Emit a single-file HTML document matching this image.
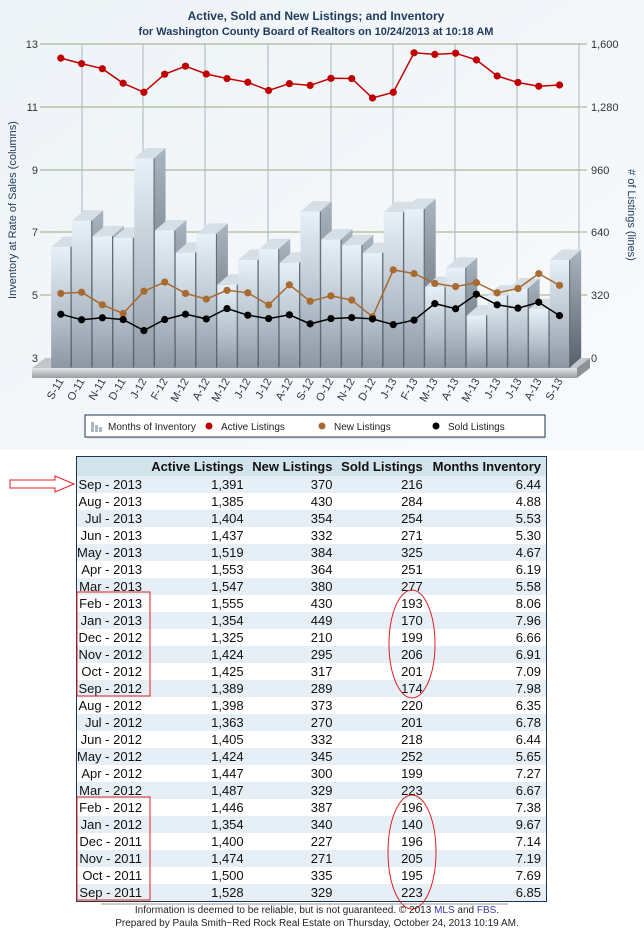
<!DOCTYPE html>
<html><head><meta charset="utf-8">
<style>
html,body{margin:0;padding:0;}
body{width:644px;height:946px;position:relative;overflow:hidden;background:#fff;font-family:"Liberation Sans",sans-serif;}
#chart{position:absolute;left:0;top:0;}
table{position:absolute;left:76px;top:456px;width:471px;border-collapse:collapse;border:1px solid #1d3550;font-size:13px;color:#111;}
th{background:#d3e3ec;font-weight:bold;height:19px;padding:0 5px 0 0;text-align:right;white-space:nowrap;}
td{height:17px;padding:0 5px 0 0;text-align:right;white-space:nowrap;line-height:17px;}
tr:nth-child(odd) td{background:#fff;}
tr:nth-child(even) td{background:#e6eff6;}
.c0{width:61px;}
#ann{position:absolute;left:0;top:0;}
.foot{position:absolute;left:0;width:610px;text-align:center;font-size:10px;color:#222;}
</style></head><body>
<svg id="chart" width="644" height="450" viewBox="0 0 644 450">
<defs>
<linearGradient id="bg" x1="0" y1="0" x2="1" y2="1"><stop offset="0" stop-color="#eef3f7"/><stop offset="1" stop-color="#f8fbfd"/></linearGradient>
<linearGradient id="fr" x1="0" y1="0" x2="0" y2="1"><stop offset="0" stop-color="#e8f1f9"/><stop offset="0.6" stop-color="#b3bfca"/><stop offset="1" stop-color="#8c97a3"/></linearGradient>
<linearGradient id="sd" x1="0" y1="0" x2="0" y2="1"><stop offset="0" stop-color="#a9b5c0"/><stop offset="1" stop-color="#56606a"/></linearGradient>
<linearGradient id="sl" x1="0" y1="0" x2="0" y2="1"><stop offset="0" stop-color="#e4e6e8"/><stop offset="1" stop-color="#9a9ea2"/></linearGradient>
</defs>
<rect width="644" height="450" fill="url(#bg)"/>
<text x="316" y="20" text-anchor="middle" font-size="12" font-weight="bold" fill="#1f3a5a">Active, Sold and New Listings; and Inventory</text>
<text x="316" y="35" text-anchor="middle" font-size="11" font-weight="bold" fill="#1f3a5a">for Washington County Board of Realtors on 10/24/2013 at 10:18 AM</text>
<g id="grid"></g>
<g font-size="11" fill="#333" text-anchor="end">
<text x="38" y="48">13</text><text x="38" y="111">11</text><text x="38" y="174">9</text><text x="38" y="236">7</text><text x="38" y="299">5</text><text x="38" y="362">3</text>
</g>
<g font-size="11" fill="#333">
<text x="591" y="48">1,600</text><text x="591" y="111">1,280</text><text x="591" y="174">960</text><text x="591" y="236">640</text><text x="591" y="299">320</text><text x="591" y="362">0</text>
</g>
<text transform="translate(16,210) rotate(-90)" text-anchor="middle" font-size="11" fill="#1f3a5a">Inventory at Rate of Sales (columns)</text>
<text transform="translate(628,215) rotate(90)" text-anchor="middle" font-size="11" fill="#1f3a5a"># of Listings (lines)</text>
<g id="bars"></g>
<g id="lines"></g>
<g id="xl" font-size="11" fill="#334" text-anchor="end">
<text transform="translate(64,381) rotate(-60)">S-11</text>
<text transform="translate(85,381) rotate(-60)">O-11</text>
<text transform="translate(106,381) rotate(-60)">N-11</text>
<text transform="translate(126,381) rotate(-60)">D-11</text>
<text transform="translate(147,381) rotate(-60)">J-12</text>
<text transform="translate(168,381) rotate(-60)">F-12</text>
<text transform="translate(189,381) rotate(-60)">M-12</text>
<text transform="translate(210,381) rotate(-60)">A-12</text>
<text transform="translate(230,381) rotate(-60)">M-12</text>
<text transform="translate(251,381) rotate(-60)">J-12</text>
<text transform="translate(272,381) rotate(-60)">J-12</text>
<text transform="translate(293,381) rotate(-60)">A-12</text>
<text transform="translate(314,381) rotate(-60)">S-12</text>
<text transform="translate(334,381) rotate(-60)">O-12</text>
<text transform="translate(355,381) rotate(-60)">N-12</text>
<text transform="translate(376,381) rotate(-60)">D-12</text>
<text transform="translate(397,381) rotate(-60)">J-13</text>
<text transform="translate(418,381) rotate(-60)">F-13</text>
<text transform="translate(438,381) rotate(-60)">M-13</text>
<text transform="translate(459,381) rotate(-60)">A-13</text>
<text transform="translate(480,381) rotate(-60)">M-13</text>
<text transform="translate(501,381) rotate(-60)">J-13</text>
<text transform="translate(522,381) rotate(-60)">J-13</text>
<text transform="translate(542,381) rotate(-60)">A-13</text>
<text transform="translate(563,381) rotate(-60)">S-13</text>
</g>
<rect x="87" y="417" width="458" height="22" fill="#dfe3e6"/>
<rect x="85" y="415" width="460" height="22" fill="#fff" stroke="#1d3550" stroke-width="1"/>
<g fill="#a9b9c8"><rect x="91" y="422" width="3" height="10"/><rect x="95" y="425" width="3" height="7"/><rect x="99" y="427" width="3" height="5"/></g>
<g font-size="10" fill="#222">
<text x="108" y="430">Months of Inventory</text>
<circle cx="209" cy="426" r="3.5" fill="#c00000"/><text x="221" y="430">Active Listings</text>
<circle cx="322" cy="426" r="3.5" fill="#a86a30"/><text x="334" y="430">New Listings</text>
<circle cx="436" cy="426" r="3.5" fill="#000"/><text x="448" y="430">Sold Listings</text>
</g>
</svg>

<table>
<tr><th class="c0"></th><th>Active Listings</th><th>New Listings</th><th>Sold Listings</th><th>Months Inventory</th></tr>
<tr><td>Sep - 2013</td><td>1,391</td><td>370</td><td>216</td><td>6.44</td></tr>
<tr><td>Aug - 2013</td><td>1,385</td><td>430</td><td>284</td><td>4.88</td></tr>
<tr><td>Jul - 2013</td><td>1,404</td><td>354</td><td>254</td><td>5.53</td></tr>
<tr><td>Jun - 2013</td><td>1,437</td><td>332</td><td>271</td><td>5.30</td></tr>
<tr><td>May - 2013</td><td>1,519</td><td>384</td><td>325</td><td>4.67</td></tr>
<tr><td>Apr - 2013</td><td>1,553</td><td>364</td><td>251</td><td>6.19</td></tr>
<tr><td>Mar - 2013</td><td>1,547</td><td>380</td><td>277</td><td>5.58</td></tr>
<tr><td>Feb - 2013</td><td>1,555</td><td>430</td><td>193</td><td>8.06</td></tr>
<tr><td>Jan - 2013</td><td>1,354</td><td>449</td><td>170</td><td>7.96</td></tr>
<tr><td>Dec - 2012</td><td>1,325</td><td>210</td><td>199</td><td>6.66</td></tr>
<tr><td>Nov - 2012</td><td>1,424</td><td>295</td><td>206</td><td>6.91</td></tr>
<tr><td>Oct - 2012</td><td>1,425</td><td>317</td><td>201</td><td>7.09</td></tr>
<tr><td>Sep - 2012</td><td>1,389</td><td>289</td><td>174</td><td>7.98</td></tr>
<tr><td>Aug - 2012</td><td>1,398</td><td>373</td><td>220</td><td>6.35</td></tr>
<tr><td>Jul - 2012</td><td>1,363</td><td>270</td><td>201</td><td>6.78</td></tr>
<tr><td>Jun - 2012</td><td>1,405</td><td>332</td><td>218</td><td>6.44</td></tr>
<tr><td>May - 2012</td><td>1,424</td><td>345</td><td>252</td><td>5.65</td></tr>
<tr><td>Apr - 2012</td><td>1,447</td><td>300</td><td>199</td><td>7.27</td></tr>
<tr><td>Mar - 2012</td><td>1,487</td><td>329</td><td>223</td><td>6.67</td></tr>
<tr><td>Feb - 2012</td><td>1,446</td><td>387</td><td>196</td><td>7.38</td></tr>
<tr><td>Jan - 2012</td><td>1,354</td><td>340</td><td>140</td><td>9.67</td></tr>
<tr><td>Dec - 2011</td><td>1,400</td><td>227</td><td>196</td><td>7.14</td></tr>
<tr><td>Nov - 2011</td><td>1,474</td><td>271</td><td>205</td><td>7.19</td></tr>
<tr><td>Oct - 2011</td><td>1,500</td><td>335</td><td>195</td><td>7.69</td></tr>
<tr><td>Sep - 2011</td><td>1,528</td><td>329</td><td>223</td><td>6.85</td></tr>
</table>

<svg id="ann" width="644" height="946">
<polygon points="10,480 55,480 55,476 74,484 55,492 55,488 10,488" fill="none" stroke="#e02020" stroke-width="1"/>
<rect x="77" y="592" width="73" height="104" fill="none" stroke="#e02020" stroke-width="1"/>
<rect x="77" y="797" width="73" height="103" fill="none" stroke="#e02020" stroke-width="1"/>
<ellipse cx="412" cy="644" rx="23" ry="54" fill="none" stroke="#e02020" stroke-width="1"/>
<ellipse cx="412" cy="852" rx="24" ry="57" fill="none" stroke="#e02020" stroke-width="1"/>
<line x1="101" y1="904" x2="508" y2="904" stroke="#999" stroke-width="1"/>
</svg>
<div class="foot" style="top:905px;left:12px;">Information is deemed to be reliable, but is not guaranteed. © 2013 <span style="color:#3a3aa0">MLS</span> and <span style="color:#3a3aa0">FBS</span>.</div>
<div class="foot" style="top:918px;left:12px;">Prepared by Paula Smith~Red Rock Real Estate on Thursday, October 24, 2013 10:19 AM.</div>

<script>
(function(){
var NS="http://www.w3.org/2000/svg";
function el(p,t,a){var e=document.createElementNS(NS,t);for(var k in a)e.setAttribute(k,a[k]);p.appendChild(e);return e;}
var act=[1528,1500,1474,1400,1354,1446,1487,1447,1424,1405,1363,1398,1389,1425,1424,1325,1354,1555,1547,1553,1519,1437,1404,1385,1391];
var nw=[329,335,271,227,340,387,329,300,345,332,270,373,289,317,295,210,449,430,380,364,384,332,354,430,370];
var sold=[223,195,205,196,140,196,223,199,252,218,201,220,174,201,206,199,170,193,277,251,325,271,254,284,216];
var mo=[6.85,7.69,7.19,7.14,9.67,7.38,6.67,7.27,5.65,6.44,6.78,6.35,7.98,7.09,6.91,6.66,7.96,8.06,5.58,6.19,4.67,5.30,5.53,4.88,6.44];
var g=document.getElementById('grid');
[44,107,170,232,295].forEach(function(y){el(g,'line',{x1:40,y1:y,x2:587,y2:y,stroke:'#9aaa7a','stroke-width':1});});
[82,143,205,268,331,393,455,517,579].forEach(function(x){el(g,'line',{x1:x,y1:44,x2:x,y2:358,stroke:'#a8b4c0','stroke-width':1});});
var b=document.getElementById('bars');
el(b,'polygon',{points:'32,368 45,358 590,358 577,368',fill:'#c3c7cb'});
el(b,'rect',{x:32,y:368,width:545,height:10,fill:'url(#sl)'});
el(b,'polygon',{points:'577,368 590,358 590,368 577,378',fill:'#8e9296'});
function cx(i){return 60.8+i*20.78;}
var dx=12,dy=-10.5,w=19.3;
for(var i=0;i<25;i++){
 var x=cx(i)-w/2, ty=368-(mo[i]-3)*31.4;
 el(b,'polygon',{points:(x+w)+','+ty+' '+(x+w+dx)+','+(ty+dy)+' '+(x+w+dx)+','+(368+dy)+' '+(x+w)+',368',fill:'url(#sd)'});
 el(b,'polygon',{points:x+','+ty+' '+(x+dx)+','+(ty+dy)+' '+(x+w+dx)+','+(ty+dy)+' '+(x+w)+','+ty,fill:'#d6dee6'});
 el(b,'rect',{x:x,y:ty,width:w,height:368-ty,fill:'url(#fr)'});
 el(b,'line',{x1:x+w+0.5,y1:ty,x2:x+w+0.5,y2:368,stroke:'#5f6870','stroke-width':1});
}
var L=document.getElementById('lines');
function series(d,col){
 var pts=d.map(function(v,i){return cx(i).toFixed(1)+','+(358-v*314/1600).toFixed(1);});
 el(L,'polyline',{points:pts.join(' '),fill:'none',stroke:col,'stroke-width':1.5});
 d.forEach(function(v,i){el(L,'circle',{cx:cx(i),cy:358-v*314/1600,r:3.6,fill:col});});
}
series(nw,'#a86a30');series(sold,'#000');series(act,'#c00000');
})();
</script>
</body></html>
